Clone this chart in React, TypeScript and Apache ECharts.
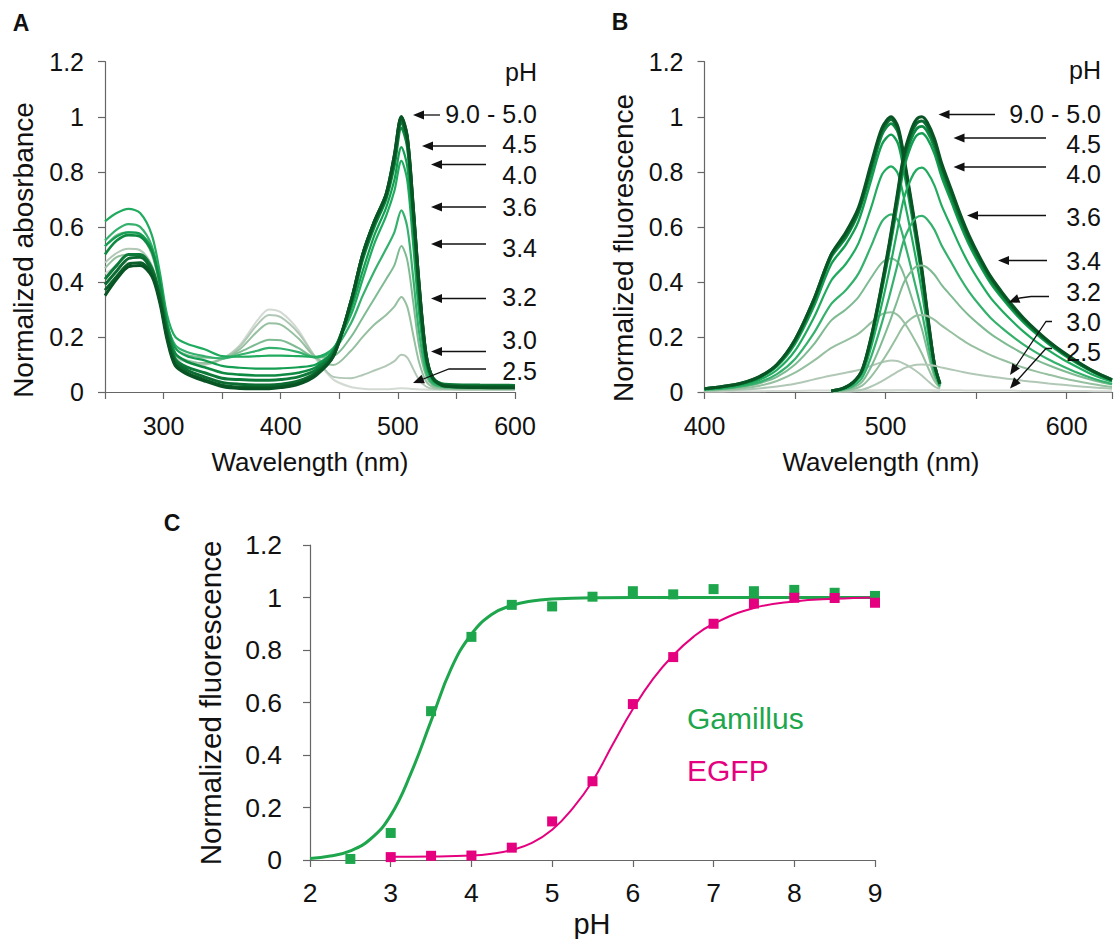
import React, { useEffect, useRef } from "react";
import * as echarts from "echarts";

// ---------- Panel A: absorbance spectra ----------
const A_WL = [250, 260, 270, 280, 290, 297, 303, 310, 320, 335, 350, 365, 380, 390, 400, 415, 430, 445, 460, 470, 480, 490, 497, 503, 508, 513, 518, 524, 530, 540, 570, 600];
const A_PH25 = [0.43, 0.455, 0.47, 0.465, 0.42, 0.33, 0.2, 0.125, 0.11, 0.1, 0.12, 0.17, 0.26, 0.3, 0.29, 0.225, 0.12, 0.045, 0.018, 0.012, 0.01, 0.01, 0.012, 0.014, 0.013, 0.011, 0.01, 0.009, 0.008, 0.008, 0.007, 0.007];
const A_PH30 = [0.47, 0.505, 0.52, 0.515, 0.46, 0.35, 0.215, 0.13, 0.112, 0.1, 0.12, 0.165, 0.245, 0.28, 0.272, 0.215, 0.125, 0.055, 0.05, 0.062, 0.078, 0.095, 0.112, 0.135, 0.125, 0.085, 0.045, 0.02, 0.012, 0.01, 0.009, 0.009];
const A_PH32 = [0.45, 0.49, 0.5, 0.495, 0.445, 0.34, 0.21, 0.135, 0.115, 0.105, 0.12, 0.155, 0.22, 0.25, 0.245, 0.195, 0.125, 0.098, 0.15, 0.2, 0.245, 0.28, 0.31, 0.345, 0.31, 0.21, 0.11, 0.04, 0.018, 0.012, 0.01, 0.01];
const A_PH34 = [0.53, 0.57, 0.58, 0.57, 0.5, 0.38, 0.24, 0.16, 0.135, 0.125, 0.122, 0.145, 0.175, 0.19, 0.188, 0.16, 0.125, 0.13, 0.2, 0.27, 0.34, 0.41, 0.46, 0.53, 0.48, 0.33, 0.17, 0.06, 0.025, 0.015, 0.012, 0.012];
const A_PH36 = [0.55, 0.59, 0.61, 0.6, 0.53, 0.4, 0.25, 0.17, 0.145, 0.13, 0.122, 0.135, 0.15, 0.16, 0.158, 0.145, 0.125, 0.15, 0.25, 0.35, 0.44, 0.52, 0.58, 0.66, 0.6, 0.42, 0.22, 0.075, 0.03, 0.018, 0.015, 0.015];
const A_PH40 = [0.62, 0.65, 0.665, 0.65, 0.57, 0.43, 0.28, 0.2, 0.175, 0.155, 0.13, 0.128, 0.13, 0.132, 0.132, 0.13, 0.128, 0.16, 0.28, 0.41, 0.54, 0.64, 0.73, 0.84, 0.77, 0.54, 0.29, 0.1, 0.04, 0.022, 0.02, 0.02];
const A_PH45 = [0.53, 0.565, 0.58, 0.575, 0.52, 0.4, 0.25, 0.16, 0.13, 0.115, 0.095, 0.088, 0.085, 0.085, 0.086, 0.09, 0.1, 0.15, 0.3, 0.44, 0.57, 0.67, 0.77, 0.89, 0.82, 0.58, 0.32, 0.11, 0.04, 0.025, 0.022, 0.022];
const A_PH50 = [0.5, 0.55, 0.57, 0.565, 0.51, 0.39, 0.24, 0.14, 0.11, 0.09, 0.07, 0.063, 0.06, 0.06, 0.062, 0.07, 0.09, 0.15, 0.32, 0.48, 0.6, 0.7, 0.82, 0.96, 0.89, 0.64, 0.36, 0.12, 0.045, 0.025, 0.022, 0.022];
const A_PH60 = [0.41, 0.46, 0.5, 0.5, 0.45, 0.35, 0.22, 0.12, 0.09, 0.07, 0.05, 0.045, 0.043, 0.043, 0.045, 0.055, 0.08, 0.14, 0.32, 0.49, 0.61, 0.71, 0.84, 0.98, 0.91, 0.66, 0.38, 0.13, 0.05, 0.028, 0.025, 0.024];
const A_PH70 = [0.39, 0.44, 0.485, 0.49, 0.44, 0.34, 0.21, 0.11, 0.08, 0.055, 0.035, 0.028, 0.025, 0.025, 0.028, 0.04, 0.07, 0.135, 0.33, 0.5, 0.62, 0.715, 0.85, 0.995, 0.92, 0.67, 0.39, 0.135, 0.05, 0.025, 0.02, 0.02];
const A_PH80 = [0.37, 0.42, 0.465, 0.47, 0.43, 0.33, 0.2, 0.1, 0.07, 0.045, 0.025, 0.018, 0.016, 0.016, 0.02, 0.032, 0.065, 0.13, 0.33, 0.5, 0.62, 0.72, 0.86, 1.0, 0.93, 0.68, 0.4, 0.14, 0.05, 0.022, 0.018, 0.018];
const A_PH90 = [0.35, 0.41, 0.455, 0.46, 0.42, 0.32, 0.19, 0.095, 0.065, 0.04, 0.02, 0.013, 0.012, 0.012, 0.016, 0.028, 0.06, 0.13, 0.33, 0.5, 0.62, 0.72, 0.86, 1.0, 0.93, 0.68, 0.4, 0.14, 0.05, 0.022, 0.016, 0.015];

// ---------- Panel B: excitation & emission spectra ----------
const B_EX_WL = [400, 410, 420, 430, 440, 450, 460, 470, 478, 485, 492, 498, 503, 507, 511, 516, 520, 524, 527, 530];
const B_EX90 = [0.012, 0.02, 0.032, 0.055, 0.1, 0.19, 0.33, 0.5, 0.58, 0.67, 0.83, 0.96, 1.0, 0.96, 0.82, 0.62, 0.45, 0.24, 0.1, 0.03];
const B_EX70 = [0.012, 0.02, 0.031, 0.054, 0.1, 0.19, 0.33, 0.5, 0.57, 0.66, 0.82, 0.95, 0.99, 0.95, 0.81, 0.61, 0.44, 0.235, 0.1, 0.03];
const B_EX50 = [0.012, 0.019, 0.03, 0.052, 0.097, 0.185, 0.32, 0.49, 0.56, 0.65, 0.8, 0.935, 0.975, 0.94, 0.8, 0.6, 0.435, 0.23, 0.1, 0.03];
const B_EX45 = [0.011, 0.018, 0.028, 0.05, 0.093, 0.175, 0.305, 0.465, 0.535, 0.62, 0.77, 0.9, 0.935, 0.9, 0.77, 0.58, 0.415, 0.22, 0.095, 0.03];
const B_EX40 = [0.01, 0.015, 0.024, 0.043, 0.08, 0.15, 0.265, 0.405, 0.465, 0.54, 0.67, 0.79, 0.82, 0.79, 0.675, 0.51, 0.365, 0.195, 0.085, 0.025];
const B_EX36 = [0.008, 0.012, 0.02, 0.035, 0.065, 0.12, 0.21, 0.32, 0.37, 0.43, 0.53, 0.62, 0.645, 0.62, 0.53, 0.4, 0.29, 0.155, 0.068, 0.02];
const B_EX34 = [0.007, 0.011, 0.018, 0.031, 0.055, 0.1, 0.17, 0.26, 0.3, 0.345, 0.415, 0.47, 0.485, 0.47, 0.41, 0.31, 0.23, 0.125, 0.055, 0.02];
const B_EX32 = [0.005, 0.008, 0.013, 0.022, 0.04, 0.07, 0.112, 0.16, 0.187, 0.212, 0.252, 0.283, 0.29, 0.278, 0.245, 0.19, 0.14, 0.08, 0.04, 0.015];
const B_EX30 = [0.003, 0.005, 0.008, 0.013, 0.02, 0.03, 0.045, 0.06, 0.07, 0.08, 0.095, 0.108, 0.114, 0.112, 0.1, 0.08, 0.06, 0.036, 0.02, 0.01];
const B_EX25 = [0.002, 0.002, 0.003, 0.003, 0.004, 0.004, 0.005, 0.005, 0.005, 0.006, 0.006, 0.006, 0.006, 0.006, 0.006, 0.005, 0.005, 0.005, 0.004, 0.004];

const B_EM_WL = [470, 476, 482, 487, 492, 497, 502, 506, 510, 514, 517, 520, 523, 527, 531, 536, 541, 546, 552, 558, 564, 570, 576, 583, 590, 598, 606, 615, 625];
const B_EM90 = [0.004, 0.012, 0.035, 0.08, 0.2, 0.36, 0.54, 0.7, 0.86, 0.95, 0.99, 1.0, 0.98, 0.92, 0.83, 0.74, 0.65, 0.57, 0.49, 0.42, 0.365, 0.315, 0.27, 0.225, 0.185, 0.145, 0.11, 0.075, 0.045];
const B_EM70 = [0.004, 0.012, 0.034, 0.079, 0.197, 0.355, 0.532, 0.69, 0.847, 0.936, 0.975, 0.985, 0.965, 0.906, 0.818, 0.729, 0.64, 0.561, 0.483, 0.414, 0.36, 0.31, 0.266, 0.222, 0.182, 0.143, 0.108, 0.074, 0.044];
const B_EM50 = [0.004, 0.012, 0.034, 0.077, 0.193, 0.347, 0.521, 0.676, 0.83, 0.917, 0.955, 0.965, 0.946, 0.888, 0.801, 0.714, 0.627, 0.55, 0.473, 0.405, 0.352, 0.304, 0.261, 0.217, 0.179, 0.14, 0.106, 0.072, 0.043];
const B_EM45 = [0.004, 0.011, 0.033, 0.075, 0.188, 0.338, 0.508, 0.658, 0.808, 0.893, 0.931, 0.94, 0.921, 0.865, 0.78, 0.696, 0.611, 0.536, 0.461, 0.395, 0.343, 0.296, 0.254, 0.212, 0.174, 0.136, 0.103, 0.071, 0.042];
const B_EM40 = [0.003, 0.01, 0.029, 0.065, 0.163, 0.293, 0.44, 0.571, 0.701, 0.774, 0.807, 0.815, 0.799, 0.75, 0.676, 0.603, 0.53, 0.465, 0.4, 0.342, 0.297, 0.257, 0.22, 0.183, 0.151, 0.118, 0.09, 0.061, 0.037];
const B_EM36 = [0.003, 0.008, 0.022, 0.051, 0.128, 0.23, 0.346, 0.448, 0.55, 0.608, 0.634, 0.64, 0.627, 0.589, 0.531, 0.474, 0.416, 0.365, 0.314, 0.269, 0.234, 0.202, 0.173, 0.144, 0.118, 0.093, 0.07, 0.048, 0.029];
const B_EM34 = [0.002, 0.006, 0.016, 0.037, 0.092, 0.166, 0.25, 0.323, 0.396, 0.437, 0.456, 0.46, 0.452, 0.426, 0.388, 0.35, 0.312, 0.278, 0.243, 0.211, 0.185, 0.161, 0.139, 0.117, 0.097, 0.077, 0.059, 0.042, 0.027];
const B_EM32 = [0.001, 0.004, 0.01, 0.023, 0.056, 0.101, 0.152, 0.197, 0.241, 0.266, 0.278, 0.28, 0.276, 0.262, 0.241, 0.218, 0.195, 0.174, 0.153, 0.134, 0.118, 0.103, 0.089, 0.075, 0.063, 0.05, 0.039, 0.028, 0.018];
const B_EM30 = [0.001, 0.002, 0.004, 0.008, 0.02, 0.036, 0.055, 0.071, 0.086, 0.095, 0.099, 0.1, 0.099, 0.095, 0.089, 0.082, 0.075, 0.068, 0.062, 0.056, 0.051, 0.046, 0.041, 0.036, 0.031, 0.026, 0.021, 0.016, 0.012];
const B_EM25 = [0.002, 0.003, 0.003, 0.004, 0.004, 0.005, 0.005, 0.006, 0.006, 0.006, 0.006, 0.006, 0.006, 0.006, 0.006, 0.006, 0.006, 0.005, 0.005, 0.005, 0.005, 0.005, 0.004, 0.004, 0.004, 0.004, 0.004, 0.003, 0.003];

// ---------- Panel C: pH titration ----------
const C_PH = [2.5, 3, 3.5, 4, 4.5, 5, 5.5, 6, 6.5, 7, 7.5, 8, 8.5, 9];
const GAMILLUS = [0.004, 0.103, 0.567, 0.85, 0.972, 0.966, 1.003, 1.024, 1.012, 1.032, 1.024, 1.029, 1.018, 1.006];
const EGFP_PH = [3, 3.5, 4, 4.5, 5, 5.5, 6, 6.5, 7, 7.5, 8, 8.5, 9];
const EGFP = [0.011, 0.016, 0.017, 0.047, 0.147, 0.3, 0.594, 0.773, 0.9, 0.977, 0.999, 0.998, 0.98];
const FIT_G_PH = [2, 2.25, 2.5, 2.75, 3, 3.25, 3.5, 3.75, 4, 4.25, 4.5, 4.75, 5, 5.5, 6, 7, 8, 9];
const FIT_G = [0.006, 0.015, 0.035, 0.08, 0.17, 0.33, 0.53, 0.73, 0.86, 0.935, 0.97, 0.987, 0.994, 0.999, 1.0, 1.0, 1.0, 1.0];
const FIT_E_PH = [3, 3.5, 4, 4.25, 4.5, 4.75, 5, 5.25, 5.5, 5.75, 6, 6.25, 6.5, 6.75, 7, 7.5, 8, 8.5, 9];
const FIT_E = [0.012, 0.013, 0.017, 0.024, 0.038, 0.065, 0.115, 0.195, 0.3, 0.44, 0.575, 0.69, 0.78, 0.85, 0.9, 0.96, 0.985, 0.995, 1.0];

const PH_LABELS = ["9.0 - 5.0", "4.5", "4.0", "3.6", "3.4", "3.2", "3.0", "2.5"];
const Y_TICKS = [0, 0.2, 0.4, 0.6, 0.8, 1, 1.2];

const FONT = '"Liberation Sans", Arial, Helvetica, sans-serif';

const COL: Record<string, string> = {
  "2.5": "#d3dad3",
  "3.0": "#b2c8b6",
  "3.2": "#96c0a0",
  "3.4": "#7fbb92",
  "3.6": "#35b16d",
  "4.0": "#20ab5f",
  "4.5": "#149e52",
  "5.0": "#0f8a43",
  "6.0": "#0d7a39",
  "7.0": "#0b6b30",
  "8.0": "#0a6029",
  "9.0": "#095424",
};

function lineSeries(xs: number[], ys: number[], color: string, width: number, axis: number, smooth = 0.3) {
  return {
    type: "line",
    xAxisIndex: axis,
    yAxisIndex: axis,
    data: xs.map((x, i) => [x, ys[i]]),
    showSymbol: false,
    symbol: "none",
    smooth,
    lineStyle: { color, width },
    itemStyle: { color },
    silent: true,
    z: 2,
  };
}

function arrowElems(pts: number[][]) {
  const els: any[] = [];
  const n = pts.length;
  const tip = pts[n - 1];
  const prev = pts[n - 2];
  const dx = tip[0] - prev[0];
  const dy = tip[1] - prev[1];
  const d = Math.sqrt(dx * dx + dy * dy) || 1;
  const ux = dx / d;
  const uy = dy / d;
  const L = 11;
  const H = 4.5;
  const bx = tip[0] - ux * L;
  const by = tip[1] - uy * L;
  const linePts = pts.slice(0, n - 1).concat([[bx + ux * 2, by + uy * 2]]);
  els.push({
    type: "polyline",
    shape: { points: linePts },
    style: { stroke: "#111", lineWidth: 1.3, fill: null },
    z: 50,
  });
  els.push({
    type: "polygon",
    shape: {
      points: [
        [tip[0], tip[1]],
        [bx - uy * H, by + ux * H],
        [bx + uy * H, by - ux * H],
      ],
    },
    style: { fill: "#111" },
    z: 50,
  });
  return els;
}

function text(t: string, x: number, y: number, size: number, opts: any = {}) {
  return {
    type: "text",
    x,
    y,
    rotation: opts.rotation || 0,
    z: 60,
    style: {
      text: t,
      fontSize: size,
      fontFamily: FONT,
      fontWeight: opts.bold ? "bold" : "normal",
      fill: opts.fill || "#111",
      align: opts.align || "center",
      verticalAlign: "middle",
    },
  };
}

const axisCommon = (fontSize: number, margin: number) => ({
  axisLine: { show: true, lineStyle: { color: "#666", width: 1.2 } },
  axisTick: { show: true, inside: false, length: 7, lineStyle: { color: "#666", width: 1.2 } },
  splitLine: { show: false },
  axisLabel: { color: "#111", fontSize, fontFamily: FONT, margin },
});

export default function App() {
  const ref = useRef<HTMLDivElement>(null);

  useEffect(() => {
    if (!ref.current) return;
    const chart = echarts.init(ref.current, null, { renderer: "svg" });

    const aSets: [string, number[], number][] = [
      ["2.5", A_PH25, 2],
      ["3.0", A_PH30, 2],
      ["3.2", A_PH32, 2],
      ["3.4", A_PH34, 2],
      ["3.6", A_PH36, 2.2],
      ["4.0", A_PH40, 2.2],
      ["4.5", A_PH45, 2.2],
      ["5.0", A_PH50, 2.6],
      ["6.0", A_PH60, 3],
      ["7.0", A_PH70, 3],
      ["8.0", A_PH80, 3],
      ["9.0", A_PH90, 3],
    ];
    const exSets: [string, number[], number][] = [
      ["2.5", B_EX25, 2],
      ["3.0", B_EX30, 2],
      ["3.2", B_EX32, 2],
      ["3.4", B_EX34, 2],
      ["3.6", B_EX36, 2.2],
      ["4.0", B_EX40, 2.2],
      ["4.5", B_EX45, 2.4],
      ["5.0", B_EX50, 2.8],
      ["7.0", B_EX70, 3],
      ["9.0", B_EX90, 3],
    ];
    const emSets: [string, number[], number][] = [
      ["2.5", B_EM25, 2],
      ["3.0", B_EM30, 2],
      ["3.2", B_EM32, 2],
      ["3.4", B_EM34, 2],
      ["3.6", B_EM36, 2.2],
      ["4.0", B_EM40, 2.2],
      ["4.5", B_EM45, 2.4],
      ["5.0", B_EM50, 2.8],
      ["7.0", B_EM70, 3],
      ["9.0", B_EM90, 3],
    ];

    const series: any[] = [];
    aSets.forEach(([ph, ys, w]) => series.push(lineSeries(A_WL, ys, COL[ph], w, 0)));
    exSets.forEach(([ph, ys, w]) => series.push(lineSeries(B_EX_WL, ys, COL[ph], w, 1)));
    emSets.forEach(([ph, ys, w]) => series.push(lineSeries(B_EM_WL, ys, COL[ph], w, 1)));

    const G_COLOR = "#1ea64d";
    const E_COLOR = "#e4007e";
    series.push(lineSeries(FIT_G_PH, FIT_G, G_COLOR, 3, 2, 0.45));
    series.push(lineSeries(FIT_E_PH, FIT_E, E_COLOR, 2, 2, 0.45));
    series.push({
      type: "scatter",
      xAxisIndex: 2,
      yAxisIndex: 2,
      symbol: "rect",
      symbolSize: 10,
      data: C_PH.map((x, i) => [x, GAMILLUS[i]]),
      itemStyle: { color: G_COLOR, opacity: 1 },
      z: 5,
      silent: true,
    });
    series.push({
      type: "scatter",
      xAxisIndex: 2,
      yAxisIndex: 2,
      symbol: "rect",
      symbolSize: 10,
      data: EGFP_PH.map((x, i) => [x, EGFP[i]]),
      itemStyle: { color: E_COLOR, opacity: 1 },
      z: 5,
      silent: true,
    });

    // ---- annotations ----
    const g: any[] = [];
    g.push(text("A", 21, 23, 23, { bold: true }));
    g.push(text("B", 620, 22, 23, { bold: true }));
    g.push(text("C", 172, 523, 23, { bold: true }));

    g.push(text("Normalized abosrbance", 23, 250, 28, { rotation: Math.PI / 2 }));
    g.push(text("Wavelength (nm)", 310, 462, 26));
    g.push(text("Normalized fluorescence", 623, 248, 28, { rotation: Math.PI / 2 }));
    g.push(text("Wavelength (nm)", 881, 462, 26));
    g.push(text("Normalized fluorescence", 210, 703, 29.5, { rotation: Math.PI / 2 }));
    g.push(text("pH", 592, 924, 29));

    // panel A labels
    const aTextY = [114, 144, 175, 207, 248, 297, 340, 371];
    g.push(text("pH", 537, 72, 25, { align: "right" }));
    PH_LABELS.forEach((t, i) => g.push(text(t, 537, aTextY[i], 25, { align: "right" })));
    const aArrows = [
      [[440, 115], [413, 115]],
      [[486, 146], [422, 146]],
      [[486, 164.5], [431, 164.5]],
      [[486, 207], [431, 207]],
      [[486, 244], [431, 244]],
      [[486, 298.5], [431, 298.5]],
      [[486, 351.5], [431, 351.5]],
      [[486, 369], [449, 369], [413, 383]],
    ];
    aArrows.forEach((p) => g.push(...arrowElems(p)));

    // panel B labels
    const bTextY = [113.5, 143.5, 173.5, 217, 260.5, 292, 322, 352];
    g.push(text("pH", 1101, 70, 25, { align: "right" }));
    PH_LABELS.forEach((t, i) => g.push(text(t, 1101, bTextY[i], 25, { align: "right" })));
    const bArrows = [
      [[995, 114.5], [938.5, 114.5]],
      [[1046, 138], [953.5, 138]],
      [[1046, 167], [953.5, 167]],
      [[1046, 215.5], [967, 215.5]],
      [[1047, 260.5], [998, 260.5]],
      [[1049, 296.5], [1031, 296.5], [1020, 298], [1008.5, 302.5]],
      [[1052, 321.5], [1046, 321.5], [1010, 375]],
      [[1052, 348.5], [1046, 348.5], [1010, 388.5]],
    ];
    bArrows.forEach((p) => g.push(...arrowElems(p)));

    // panel C legend texts
    g.push(text("Gamillus", 687, 718, 30, { align: "left", fill: G_COLOR }));
    g.push(text("EGFP", 687, 770, 30, { align: "left", fill: E_COLOR }));

    const wlFormatter = (v: number) => (v % 100 === 0 ? String(v) : "");

    const option: any = {
      animation: false,
      backgroundColor: "#ffffff",
      grid: [
        { left: 105, top: 61.7, width: 410, height: 330.3 },
        { left: 704.5, top: 61.7, width: 410.5, height: 330.3 },
        { left: 310, top: 545, width: 565, height: 315 },
      ],
      xAxis: [
        {
          type: "value",
          gridIndex: 0,
          min: 250,
          max: 600,
          interval: 50,
          ...axisCommon(25, 21),
          axisLabel: { ...axisCommon(25, 21).axisLabel, formatter: wlFormatter },
        },
        {
          type: "value",
          gridIndex: 1,
          min: 400,
          max: 625,
          interval: 50,
          ...axisCommon(25, 21),
          axisLabel: { ...axisCommon(25, 21).axisLabel, formatter: wlFormatter },
        },
        {
          type: "value",
          gridIndex: 2,
          min: 2,
          max: 9,
          interval: 1,
          ...axisCommon(26.5, 19),
        },
      ],
      yAxis: [0, 1, 2].map((i) => ({
        type: "value",
        gridIndex: i,
        min: Y_TICKS[0],
        max: Y_TICKS[Y_TICKS.length - 1],
        interval: 0.2,
        ...axisCommon(i === 2 ? 26.5 : 25, i === 2 ? 28 : 21),
      })),
      series,
      graphic: { elements: g },
    };

    chart.setOption(option);
    return () => chart.dispose();
  }, []);

  return (
    <div
      ref={ref}
      style={{ position: "absolute", left: 0, top: 0, width: 1115, height: 939, background: "#fff" }}
    />
  );
}
